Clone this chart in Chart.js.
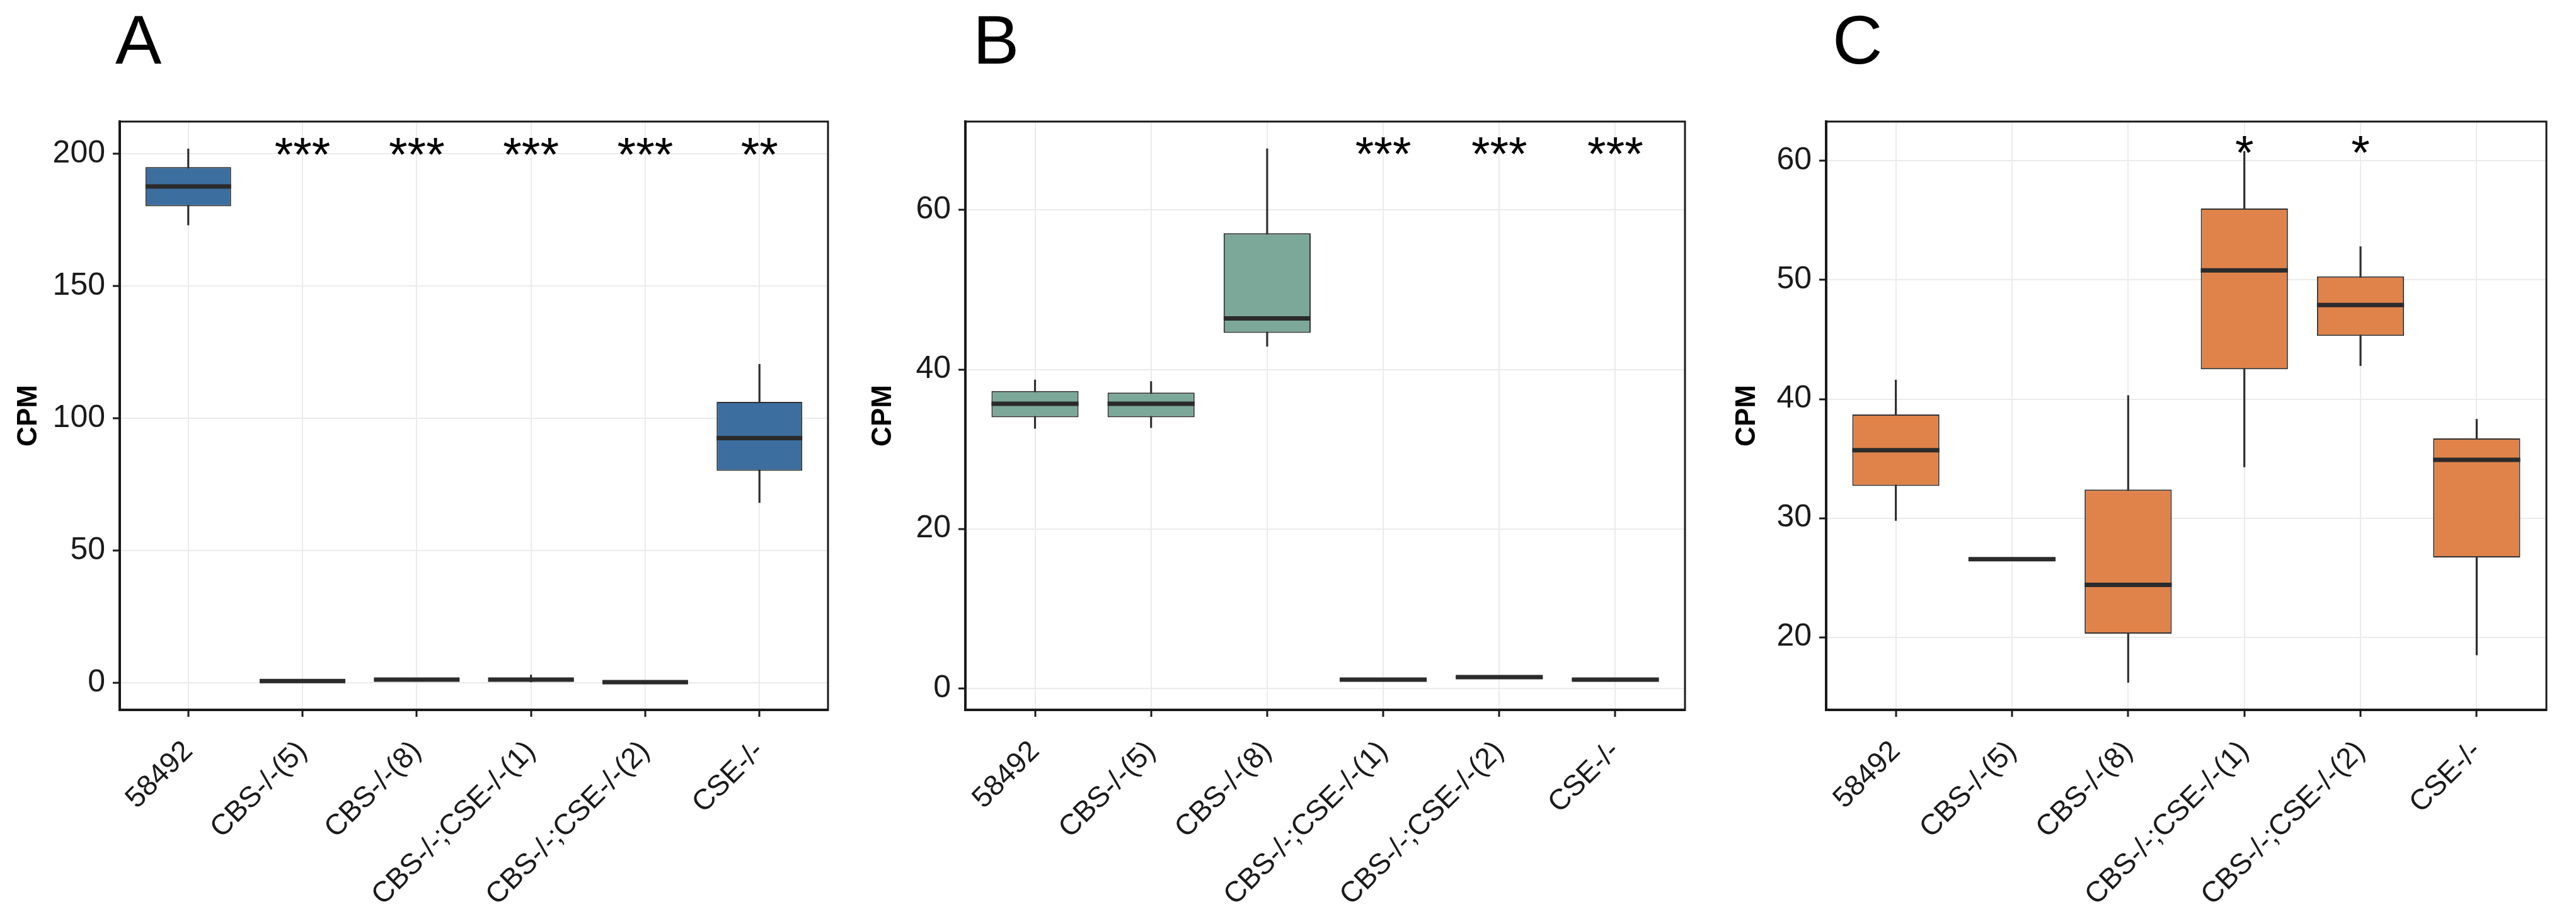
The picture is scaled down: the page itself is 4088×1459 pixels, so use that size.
<!DOCTYPE html>
<html>
<head>
<meta charset="utf-8">
<script src="https://cdn.jsdelivr.net/npm/chart.js@4.4.0/dist/chart.umd.min.js"></script>
<style>
  html, body { margin: 0; padding: 0; background: #fff; }
  body { width: 4088px; height: 1459px; position: relative; overflow: hidden; font-family: "Liberation Sans", Arial, sans-serif; }
  .panel { position: absolute; top: 0; height: 1459px; }
  .letter { position: absolute; top: 8px; font-size: 110px; line-height: 1; color: #000; }
</style>
</head>
<body>
<div class="letter" style="left:183px">A</div>
<div class="letter" style="left:1544px">B</div>
<div class="letter" style="left:2908px">C</div>
<div class="panel" style="left:0px;width:1360px"><canvas id="chartA" width="1360" height="1459"></canvas></div>
<div class="panel" style="left:1370px;width:1340px"><canvas id="chartB" width="1340" height="1459"></canvas></div>
<div class="panel" style="left:2720px;width:1368px"><canvas id="chartC" width="1368" height="1459"></canvas></div>
<script>
const categories = ['58492', 'CBS-/-(5)', 'CBS-/-(8)', 'CBS-/-;CSE-/-(1)', 'CBS-/-;CSE-/-(2)', 'CSE-/-'];

// Panel A
const minA = [173.0, 0.4, 1.0, 0.3, 0.0, 68.1];
const q1A = [180.1, 0.5, 1.1, 0.5, 0.05, 80.1];
const medA = [187.6, 0.7, 1.2, 1.2, 0.25, 92.5];
const q3A = [194.9, 0.9, 1.3, 2.0, 0.45, 106.2];
const maxA = [201.8, 1.0, 1.4, 3.0, 0.55, 120.4];
const starsA = ['', '***', '***', '***', '***', '**'];
const ticksA = [0, 50, 100, 150, 200];

// Panel B
const minB = [32.6, 32.7, 42.9, 0.9, 1.2, 0.9];
const q1B = [34.0, 34.0, 44.6, 1.0, 1.3, 1.0];
const medB = [35.7, 35.7, 46.4, 1.1, 1.4, 1.1];
const q3B = [37.3, 37.1, 57.1, 1.2, 1.5, 1.2];
const maxB = [38.7, 38.5, 67.7, 1.3, 1.6, 1.3];
const starsB = ['', '', '', '***', '***', '***'];
const ticksB = [0, 20, 40, 60];

// Panel C
const minC = [29.8, 26.5, 16.2, 34.3, 42.8, 18.5];
const q1C = [32.7, 26.5, 20.3, 42.5, 45.3, 26.7];
const medC = [35.7, 26.55, 24.4, 50.8, 47.9, 34.9];
const q3C = [38.7, 26.6, 32.4, 56.0, 50.3, 36.7];
const maxC = [41.6, 26.6, 40.3, 60.8, 52.8, 38.3];
const starsC = ['', '', '', '*', '*', ''];
const ticksC = [20, 30, 40, 50, 60];

Chart.defaults.font.family = '"Liberation Sans", Arial, sans-serif';

const frame = {
  id: 'frame',
  afterDraw(chart) {
    const { ctx, chartArea: a } = chart;
    ctx.save();
    ctx.strokeStyle = '#1a1a1a';
    ctx.lineWidth = 3;
    ctx.strokeRect(a.left, a.top, a.right - a.left, a.bottom - a.top);
    ctx.restore();
  }
};

const stars = {
  id: 'stars',
  afterDatasetsDraw(chart, args, opts) {
    const { ctx, scales: { x, y } } = chart;
    const size = 76;
    ctx.save();
    ctx.font = size + 'px "Liberation Sans", Arial, sans-serif';
    ctx.fillStyle = '#000';
    ctx.textAlign = 'center';
    ctx.textBaseline = 'alphabetic';
    opts.labels.forEach((s, i) => {
      if (!s) return;
      ctx.fillText(s, x.getPixelForValue(i), y.getPixelForValue(opts.at) + size * 0.57);
    });
    ctx.restore();
  }
};

function pts(values) {
  return values.map((v, i) => ({ x: i, y: v }));
}
function ranges(lo, hi) {
  return lo.map((v, i) => ({ x: i, y: [v, hi[i]] }));
}

function boxChart(id, p) {
  new Chart(document.getElementById(id), {
    type: 'bar',
    data: {
      datasets: [
        {
          // whiskers
          data: ranges(p.min, p.max),
          backgroundColor: '#2e2e2e',
          borderWidth: 0,
          barThickness: 2.5,
          grouped: false,
          order: 2
        },
        {
          // boxes
          data: ranges(p.q1, p.q3),
          backgroundColor: p.color,
          borderColor: '#333333',
          borderWidth: 2,
          borderSkipped: false,
          categoryPercentage: 1,
          barPercentage: 0.75,
          grouped: false,
          order: 1
        },
        {
          // medians
          type: 'line',
          data: pts(p.med),
          showLine: false,
          pointStyle: 'line',
          pointRadius: (c) => {
            const s = c.chart.scales.x;
            return Math.abs(s.getPixelForValue(1) - s.getPixelForValue(0)) * 0.375;
          },
          pointHoverRadius: 0,
          pointBorderWidth: 7,
          pointBorderColor: '#2b2b2b',
          clip: false,
          order: 0
        }
      ]
    },
    options: {
      responsive: false,
      devicePixelRatio: 1,
      animation: false,
      events: [],
      layout: { padding: { top: 193, right: p.padRight, left: 0, bottom: 0 } },
      plugins: {
        legend: { display: false },
        tooltip: { enabled: false },
        stars: { labels: p.stars, at: p.starAt }
      },
      scales: {
        x: {
          type: 'linear',
          min: -0.6,
          max: 5.6,
          offset: false,
          afterBuildTicks: (s) => { s.ticks = categories.map((c, i) => ({ value: i })); },
          afterFit: (s) => { s.height = 1459 - 1127; },
          grid: { offset: false, color: '#ebebeb', lineWidth: 2, tickColor: '#1a1a1a', tickWidth: 3, tickLength: 11 },
          border: { color: '#1a1a1a', width: 4 },
          ticks: {
            autoSkip: false,
            minRotation: 45,
            maxRotation: 45,
            padding: 28,
            color: '#1a1a1a',
            font: { size: 46 },
            callback: (v) => categories[Math.round(v)]
          }
        },
        y: {
          min: p.yMin,
          max: p.yMax,
          afterBuildTicks: (s) => { s.ticks = p.ticks.map((v) => ({ value: v })); },
          afterFit: (s) => { s.width = p.axisWidth; },
          grid: { color: '#ebebeb', lineWidth: 2, tickColor: '#1a1a1a', tickWidth: 3, tickLength: 11 },
          border: { color: '#1a1a1a', width: 4 },
          ticks: { padding: 12, color: '#1a1a1a', font: { size: 50 } },
          title: {
            display: true,
            text: 'CPM',
            color: '#000',
            font: { size: 44, weight: 'bold', lineHeight: 1.2 },
            padding: { top: p.titlePad, bottom: 0 }
          }
        }
      }
    },
    plugins: [frame, stars]
  });
}

boxChart('chartA', {
  min: minA, q1: q1A, med: medA, q3: q3A, max: maxA,
  stars: starsA, starAt: 203.8, ticks: ticksA,
  yMin: -10.2, yMax: 212.1,
  color: '#3c6e9f', axisWidth: 190, padRight: 46, titlePad: 19
});
boxChart('chartB', {
  min: minB, q1: q1B, med: medB, q3: q3B, max: maxB,
  stars: starsB, starAt: 68.4, ticks: ticksB,
  yMin: -2.7, yMax: 71.1,
  color: '#7ca899', axisWidth: 162, padRight: 36, titlePad: 5
});
boxChart('chartC', {
  min: minC, q1: q1C, med: medC, q3: q3C, max: maxC,
  stars: starsC, starAt: 61.6, ticks: ticksC,
  yMin: 13.9, yMax: 63.3,
  color: '#e0834a', axisWidth: 178, padRight: 47, titlePad: 26
});
</script>
</body>
</html>
